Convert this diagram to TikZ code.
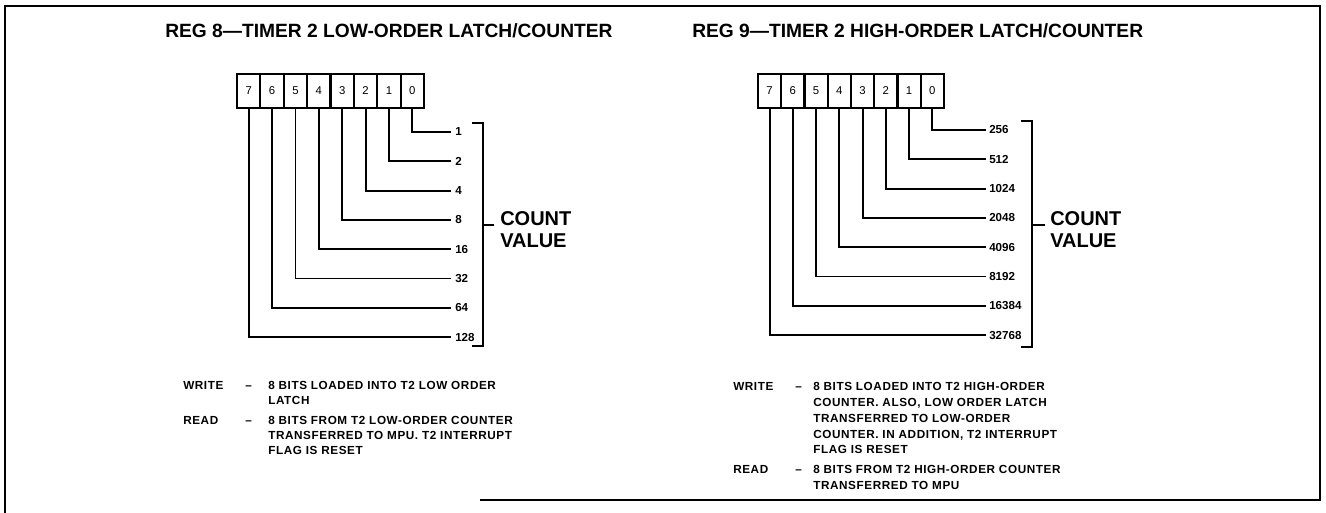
\documentclass[tikz,border=0pt]{standalone}
\usepackage{fontspec}
\setmainfont{Liberation Sans}
\newfontfamily\bodyfont[LetterSpace=5]{Liberation Sans}
\usetikzlibrary{calc}
\begin{document}
\begin{tikzpicture}[x=0.75pt,y=-0.75pt,
  wire/.style={line width=1.4pt,line cap=rect,line join=miter},
  frame/.style={line width=1.3pt},
  regbox/.style={line width=2.2pt},
  celldiv/.style={line width=1.6pt},
  bitlbl/.style={font=\fontsize{8.5pt}{9pt}\selectfont,inner sep=0pt},
  vallbl/.style={font=\bfseries\fontsize{8.7pt}{9pt}\selectfont,anchor=west,inner sep=0pt},
  ttl/.style={font=\bfseries\fontsize{14.4pt}{15pt}\selectfont,anchor=west,inner sep=0pt},
  cnt/.style={font=\bfseries\fontsize{15pt}{16.5pt}\selectfont,align=left,anchor=west,inner sep=0pt},
  bodyL/.style={font=\bodyfont\bfseries\fontsize{8.8pt}{11pt}\selectfont,align=left,anchor=north west,inner sep=0pt},
  bodyR/.style={font=\bodyfont\bfseries\fontsize{8.8pt}{11.8pt}\selectfont,align=left,anchor=north west,inner sep=0pt},
  lbl/.style={font=\bodyfont\bfseries\fontsize{8.8pt}{11pt}\selectfont,anchor=north west,inner sep=0pt}]
\useasboundingbox (0,0) rectangle (1326,513);
\coordinate (fTL) at (5,6);
\coordinate (fTR) at (1320,6);
\coordinate (fBR) at (1320,500);
\coordinate (fBL) at (5,513);
\coordinate (fBm) at (480,500);
\draw[frame] (fBL) -- (fTL) -- (fTR) -- (fBR) -- (fBm);

% ---------- LEFT REGISTER ----------
\node[ttl] (t8) at (165,31) {REG 8---TIMER 2 LOW-ORDER LATCH/COUNTER};
\def\Lx{237}\def\Lw{23.375}
\draw[regbox] (\Lx,74) rectangle ({\Lx+8*\Lw},108);
\foreach \i in {1,...,7}{\draw[celldiv] ({\Lx+\i*\Lw},74) -- ({\Lx+\i*\Lw},108);}
\foreach \b in {0,...,7}{
  \coordinate (L\b) at ({\Lx+(7.5-\b)*\Lw},108);
  \node[bitlbl] (lb\b) at ({\Lx+(7.5-\b)*\Lw},91) {\b};
  \coordinate (Le\b) at (450,{132+29.3*\b});
  \draw[wire] (L\b) |- (Le\b);
}
\foreach \b/\v in {0/1,1/2,2/4,3/8,4/16,5/32,6/64,7/128}{
  \node[vallbl] (lv\b) at ($(Le\b)+(5,0)$) {\v};
}
\coordinate (LBt) at (483,123);
\coordinate (LBb) at (483,346);
\coordinate (LBm) at (483,225);
\draw[wire] ($(LBt)+(-10,0)$) -- (LBt) -- (LBb) -- ($(LBb)+(-10,0)$);
\draw[wire] (LBm) -- ++(10,0) coordinate (LBk);
\node[cnt] (lcv) at (500,230) {COUNT\\VALUE};

\node[lbl] (lw) at (183,381.5) {\makebox[46.5pt][l]{WRITE}–};
\node[bodyL] (lwt) at (268,381.5) {8 BITS LOADED INTO T2 LOW ORDER\\LATCH};
\node[lbl] (lr) at (183,416.5) {\makebox[46.5pt][l]{READ}–};
\node[bodyL] (lrt) at (268,416.5) {8 BITS FROM T2 LOW-ORDER COUNTER\\TRANSFERRED TO MPU. T2 INTERRUPT\\FLAG IS RESET};

% ---------- RIGHT REGISTER ----------
\node[ttl] (t9) at (692,31) {REG 9---TIMER 2 HIGH-ORDER LATCH/COUNTER};
\def\Rx{758}\def\Rw{23.25}
\draw[regbox] (\Rx,74) rectangle ({\Rx+8*\Rw},108);
\foreach \i in {1,...,7}{\draw[celldiv] ({\Rx+\i*\Rw},74) -- ({\Rx+\i*\Rw},108);}
\foreach \b in {0,...,7}{
  \coordinate (R\b) at ({\Rx+(7.5-\b)*\Rw},108);
  \node[bitlbl] (rb\b) at ({\Rx+(7.5-\b)*\Rw},91) {\b};
  \coordinate (Re\b) at (985,{130+29.3*\b});
  \draw[wire] (R\b) |- (Re\b);
}
\foreach \b/\v in {0/256,1/512,2/1024,3/2048,4/4096,5/8192,6/16384,7/32768}{
  \node[vallbl] (rv\b) at ($(Re\b)+(4,0)$) {\v};
}
\coordinate (RBt) at (1032,121);
\coordinate (RBb) at (1032,347);
\coordinate (RBm) at (1032,225);
\draw[wire] ($(RBt)+(-10,0)$) -- (RBt) -- (RBb) -- ($(RBb)+(-10,0)$);
\draw[wire] (RBm) -- ++(12,0) coordinate (RBk);
\node[cnt] (rcv) at (1050,230) {COUNT\\VALUE};

\node[lbl] (rw) at (733,382.5) {\makebox[46.5pt][l]{WRITE}–};
\node[bodyR] (rwt) at (813,382.5) {8 BITS LOADED INTO T2 HIGH-ORDER\\COUNTER. ALSO, LOW ORDER LATCH\\TRANSFERRED TO LOW-ORDER\\COUNTER. IN ADDITION, T2 INTERRUPT\\FLAG IS RESET};
\node[lbl] (rr) at (733,465) {\makebox[46.5pt][l]{READ}–};
\node[bodyR] (rrt) at (813,465) {8 BITS FROM T2 HIGH-ORDER COUNTER\\TRANSFERRED TO MPU};
\end{tikzpicture}
\end{document}
